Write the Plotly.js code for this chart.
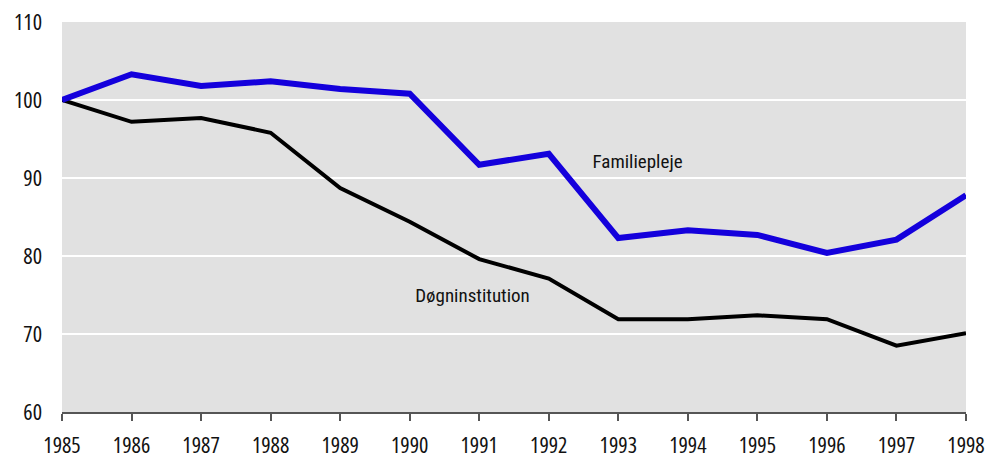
<!DOCTYPE html>
<html>
<head>
<meta charset="utf-8">
<script src="https://cdn.plot.ly/plotly-3.0.1.min.js"></script>
<style>
html,body{margin:0;padding:0;background:#fff;}
#chart{width:990px;height:460px;}
#chart svg text{font-stretch:condensed;}
</style>
</head>
<body>
<div id="chart"></div>
<script>
const years = [1985,1986,1987,1988,1989,1990,1991,1992,1993,1994,1995,1996,1997,1998];
const familiepleje = [100,103.3,101.8,102.4,101.4,100.8,91.7,93.1,82.3,83.3,82.7,80.4,82.1,87.8];
const dogninstitution = [100,97.2,97.7,95.8,88.7,84.4,79.6,77.1,71.9,71.9,72.4,71.9,68.5,70.1];
const yTicks = [60,70,80,90,100,110];
const labelFamilie = 'Familiepleje';
const labelDogn = 'Døgninstitution';
const TICKFONT = '"Open Sans",sans-serif';
const LABELFONT = 'Roboto,"Liberation Sans",sans-serif';

const traces = [
  {x: years, y: dogninstitution, type: 'scatter', mode: 'lines', name: labelDogn,
   line: {color: '#000000', width: 4}, cliponaxis: false},
  {x: years, y: familiepleje, type: 'scatter', mode: 'lines', name: labelFamilie,
   line: {color: '#1400dc', width: 6}, cliponaxis: false}
];

const layout = {
  width: 990, height: 460,
  margin: {l: 62, r: 24, t: 22, b: 48},
  paper_bgcolor: '#ffffff',
  plot_bgcolor: '#e1e1e1',
  showlegend: false,
  font: {family: TICKFONT, size: 22, color: '#111'},
  xaxis: {
    range: [1985, 1998], tickvals: years, ticktext: years.map(String),
    showgrid: false, zeroline: false, showline: true, linecolor: '#555', linewidth: 2,
    ticks: 'outside', ticklen: 7, tickwidth: 2, tickcolor: '#555',
    ticklabelstandoff: 6, ticklabeloverflow: 'allow',
    tickfont: {family: TICKFONT, size: 22, color: '#111'}
  },
  yaxis: {
    range: [60, 110], tickvals: yTicks, ticktext: yTicks.map(String),
    showgrid: true, gridcolor: '#ffffff', gridwidth: 2, zeroline: false, showline: false,
    ticks: '', ticklabelstandoff: 19, ticklabeloverflow: 'allow',
    tickfont: {family: TICKFONT, size: 22, color: '#111'}
  },
  annotations: [
    {x: 1993.28, y: 92.18, xref: 'x', yref: 'y', text: labelFamilie, showarrow: false,
     font: {family: LABELFONT, size: 19, color: '#111'}},
    {x: 1990.91, y: 75.0, xref: 'x', yref: 'y', text: labelDogn, showarrow: false,
     font: {family: LABELFONT, size: 19, color: '#111'}}
  ]
};

Plotly.newPlot('chart', traces, layout, {displayModeBar: false, staticPlot: true});
</script>
</body>
</html>
